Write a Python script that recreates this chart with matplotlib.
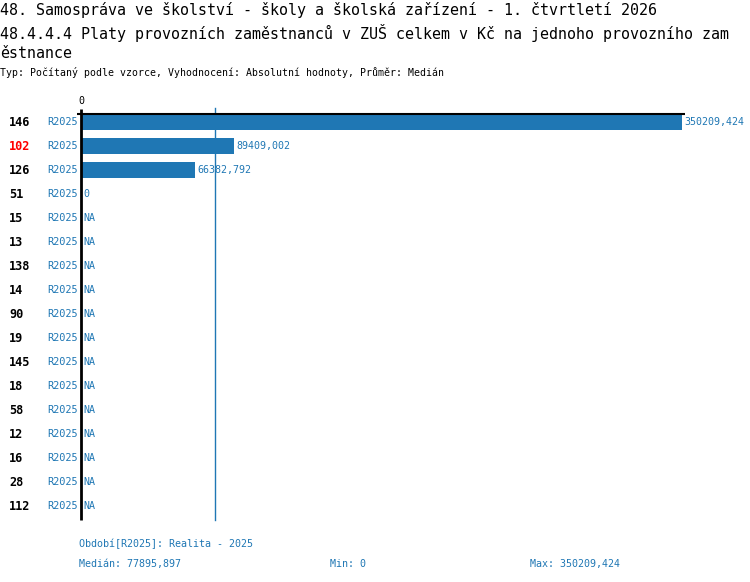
import matplotlib
matplotlib.use("Agg")
import matplotlib.pyplot as plt
import numpy as np

plt.rcParams['font.family'] = ['DejaVu Sans Mono', 'DejaVu Sans']

# data
ids = ['146', '102', '126', '51', '15', '13', '138', '14', '90', '19',
       '145', '18', '58', '12', '16', '28', '112']
period = 'R2025'
values = [350209.424, 89409.002, 66382.792, 0] + [None] * 13
highlight = '102'
median = 77895.897
vmin = 0
vmax = 350209.424

title1 = "48. Samospráva ve školství - školy a školská zařízení - 1. čtvrtletí 2026"
title2 = "48.4.4.4 Platy provozních zaměstnanců v ZUŠ celkem v Kč na jednoho provozního zam"
title3 = "ěstnance"
subtitle = "Typ: Počítaný podle vzorce, Vyhodnocení: Absolutní hodnoty, Průměr: Medián"

blue = '#1f77b4'
W, H = 750, 582


def fmt(v):
    s = ('%.3f' % v).rstrip('0').rstrip('.')
    return s.replace('.', ',')


fig = plt.figure(figsize=(W / 100, H / 100), dpi=100)
# axes in pixel coordinates: left 81, right 682, top 113, bottom 520
ax = fig.add_axes([81 / W, 1 - 520 / H, (682 - 81) / W, (520 - 113) / H])
n = len(ids)
ax.set_xlim(0, vmax)
ax.set_ylim((520 - 122) / 24, (113 - 122) / 24)
ax.axis('off')

ypos = np.arange(n)
for i, v in enumerate(values):
    if v is not None and v > 0:
        ax.barh(ypos[i], v, height=0.667, color=blue)
    lab = 'NA' if v is None else fmt(v)
    xv = 0 if v is None else v
    ax.annotate(lab, (xv, ypos[i]), xytext=(1.6, 0), textcoords='offset points',
                ha='left', va='center', color=blue, fontsize=7.2)
    ax.annotate(period, (0, ypos[i]), xytext=(-34 * 0.72, 0), textcoords='offset points',
                ha='left', va='center', color=blue, fontsize=7.4)
    col = 'red' if ids[i] == highlight else 'black'
    ax.annotate(ids[i], (0, ypos[i]), xytext=(-72 * 0.72, 0), textcoords='offset points',
                ha='left', va='center', color=col, fontsize=8.6, fontweight='bold')

# median line
ax.plot([median, median], [-0.6, (520 - 122) / 24], color=blue, lw=1, clip_on=False)
# axis lines
ax.plot([0, 0], [-0.55, (520 - 122) / 24], color='black', lw=2, clip_on=False,
        solid_capstyle='butt')
ax.plot([-4 / 601 * vmax, vmax * 1.005], [-0.33, -0.33], color='black', lw=1.5,
        clip_on=False, solid_capstyle='butt')
ax.annotate('0', (0, -0.375), xytext=(0, 5), textcoords='offset points',
            ha='center', va='bottom', fontsize=7.2)

# titles
fig.text(0, 1 - 10.5 / H, title1, fontsize=10.8, va='center', ha='left')
fig.text(0, 1 - 32.5 / H, title2, fontsize=10.8, va='center', ha='left')
fig.text(0, 1 - 53.5 / H, title3, fontsize=10.8, va='center', ha='left')
fig.text(0, 1 - 73 / H, subtitle, fontsize=7.1, va='center', ha='left')

# footer
fig.text(79 / W, 1 - 544 / H, 'Období[%s]: Realita - 2025' % period, fontsize=7.2,
         va='center', ha='left', color=blue)
fig.text(79 / W, 1 - 564 / H, 'Medián: ' + fmt(median), fontsize=7.2,
         va='center', ha='left', color=blue)
fig.text(330 / W, 1 - 564 / H, 'Min: ' + fmt(vmin), fontsize=7.2,
         va='center', ha='left', color=blue)
fig.text(530 / W, 1 - 564 / H, 'Max: ' + fmt(vmax), fontsize=7.2,
         va='center', ha='left', color=blue)

fig.savefig('out.png', dpi=100)
